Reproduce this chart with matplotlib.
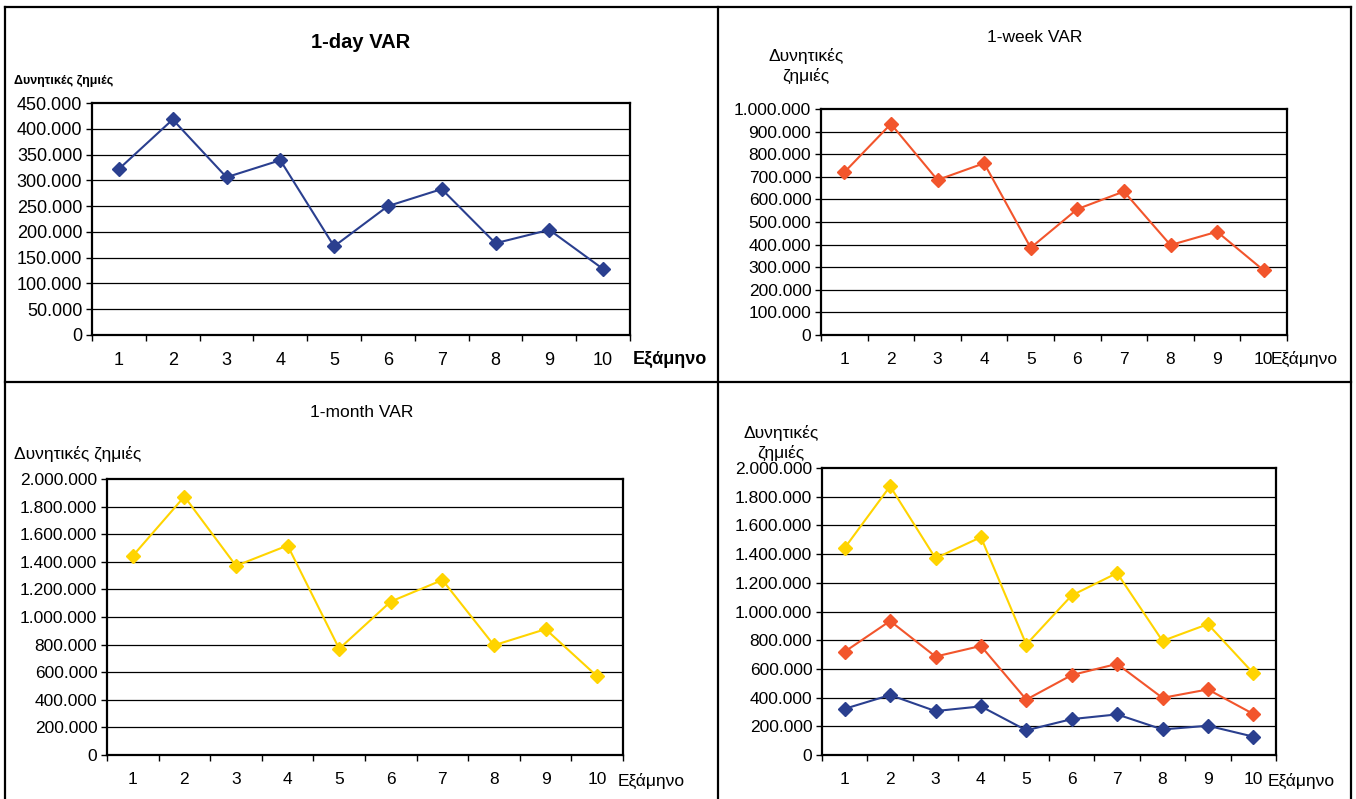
import matplotlib
matplotlib.use("Agg")
import matplotlib.pyplot as plt
from matplotlib.lines import Line2D
from matplotlib.ticker import FuncFormatter, FixedLocator

plt.rcParams['font.family'] = ['Liberation Sans', 'DejaVu Sans']

# Semesters and value-at-risk estimates per horizon
semesters = [1, 2, 3, 4, 5, 6, 7, 8, 9, 10]
var_1day = [322000, 418000, 306000, 339000, 172000, 250000, 283000, 178000, 204000, 128000]
var_1week = [720000, 934000, 686000, 760000, 386000, 557000, 635000, 398000, 457000, 286000]
var_1month = [1443000, 1873000, 1371000, 1518000, 770000, 1112000, 1268000, 795000, 912000, 570000]

ylabel = "Δυνητικές ζημιές"
xlabel = "Εξάμηνο"

C_DAY = "#2A3F8F"
C_WEEK = "#F2552C"
C_MONTH = "#FFD400"

W, H = 1356, 799
fig = plt.figure(figsize=(W / 100, H / 100), dpi=100)


def rect(left, top, right, bottom):
    return [left / W, 1 - bottom / H, (right - left) / W, (bottom - top) / H]


def fx(x):
    return x / W


def fy(y):
    return 1 - y / H


def fmt(v, _pos=None):
    return f"{int(round(v)):,}".replace(",", ".")


def setup(ax, ymax, step, fs):
    n = len(semesters)
    ax.set_xlim(0, n)
    ax.set_ylim(0, ymax)
    ax.xaxis.set_major_locator(FixedLocator(range(0, n + 1)))
    ax.xaxis.set_minor_locator(FixedLocator([i + 0.5 for i in range(n)]))
    ax.set_xticklabels([])
    ax.set_xticklabels([str(s) for s in semesters], minor=True)
    ax.tick_params(axis='x', which='major', direction='out', length=4, width=1, color='black')
    ax.tick_params(axis='x', which='minor', length=0, pad=12, labelsize=fs)
    yt = list(range(0, ymax + 1, step))
    ax.set_yticks(yt)
    ax.yaxis.set_major_formatter(FuncFormatter(fmt))
    ax.tick_params(axis='y', direction='out', length=4, width=1, pad=3, labelsize=fs)
    for v in yt[1:-1]:
        ax.axhline(v, color='black', lw=0.9, zorder=1)
    for s in ax.spines.values():
        s.set_linewidth(1.6)
        s.set_color('black')


def series(ax, vals, color):
    x = [s - 0.5 for s in semesters]
    ax.plot(x, vals, color=color, lw=1.5, marker='D', ms=7.2, mec=color, mfc=color,
            zorder=3, clip_on=False)


# Top-left: 1-day
ax1 = fig.add_axes(rect(92, 103, 630, 335))
setup(ax1, 450000, 50000, 13)
series(ax1, var_1day, C_DAY)
fig.text(fx(361), fy(42), "1-day VAR", ha='center', va='center', fontsize=14.5, fontweight='bold')
fig.text(fx(14), fy(81), ylabel, ha='left', va='center', fontsize=9, fontweight='bold')
fig.text(fx(633), fy(359), xlabel, ha='left', va='center', fontsize=13, fontweight='bold')

# Top-right: 1-week
ax2 = fig.add_axes(rect(821, 109, 1287, 335))
setup(ax2, 1000000, 100000, 12.5)
series(ax2, var_1week, C_WEEK)
fig.text(fx(1035), fy(37), "1-week VAR", ha='center', va='center', fontsize=12.5)
fig.text(fx(806), fy(66), "Δυνητικές\nζημιές", ha='center', va='center', fontsize=12.5,
         linespacing=1.35)
fig.text(fx(1271), fy(359), xlabel, ha='left', va='center', fontsize=12.5)

# Bottom-left: 1-month
ax3 = fig.add_axes(rect(107, 479, 623, 755))
setup(ax3, 2000000, 200000, 12.5)
series(ax3, var_1month, C_MONTH)
fig.text(fx(362), fy(412), "1-month VAR", ha='center', va='center', fontsize=12.5)
fig.text(fx(14), fy(454), ylabel, ha='left', va='center', fontsize=12.5)
fig.text(fx(618), fy(781), xlabel, ha='left', va='center', fontsize=12.5)

# Bottom-right: all horizons together
ax4 = fig.add_axes(rect(822, 468, 1276, 755))
setup(ax4, 2000000, 200000, 12.5)
series(ax4, var_1day, C_DAY)
series(ax4, var_1week, C_WEEK)
series(ax4, var_1month, C_MONTH)
fig.text(fx(781), fy(443), "Δυνητικές\nζημιές", ha='center', va='center', fontsize=12.5,
         linespacing=1.3)
fig.text(fx(1268), fy(781), xlabel, ha='left', va='center', fontsize=12.5)

# Panel frames
frame_kw = dict(color='black', lw=1.6, transform=fig.transFigure)
fig.add_artist(Line2D([fx(5), fx(1350.5)], [fy(7), fy(7)], **frame_kw))
fig.add_artist(Line2D([fx(5), fx(5)], [fy(7), fy(799)], **frame_kw))
fig.add_artist(Line2D([fx(1350.5), fx(1350.5)], [fy(7), fy(799)], **frame_kw))
fig.add_artist(Line2D([fx(717.5), fx(717.5)], [fy(7), fy(799)], **frame_kw))
fig.add_artist(Line2D([fx(5), fx(1350.5)], [fy(382), fy(382)], **frame_kw))

fig.savefig("out.png", dpi=100, facecolor='white')
